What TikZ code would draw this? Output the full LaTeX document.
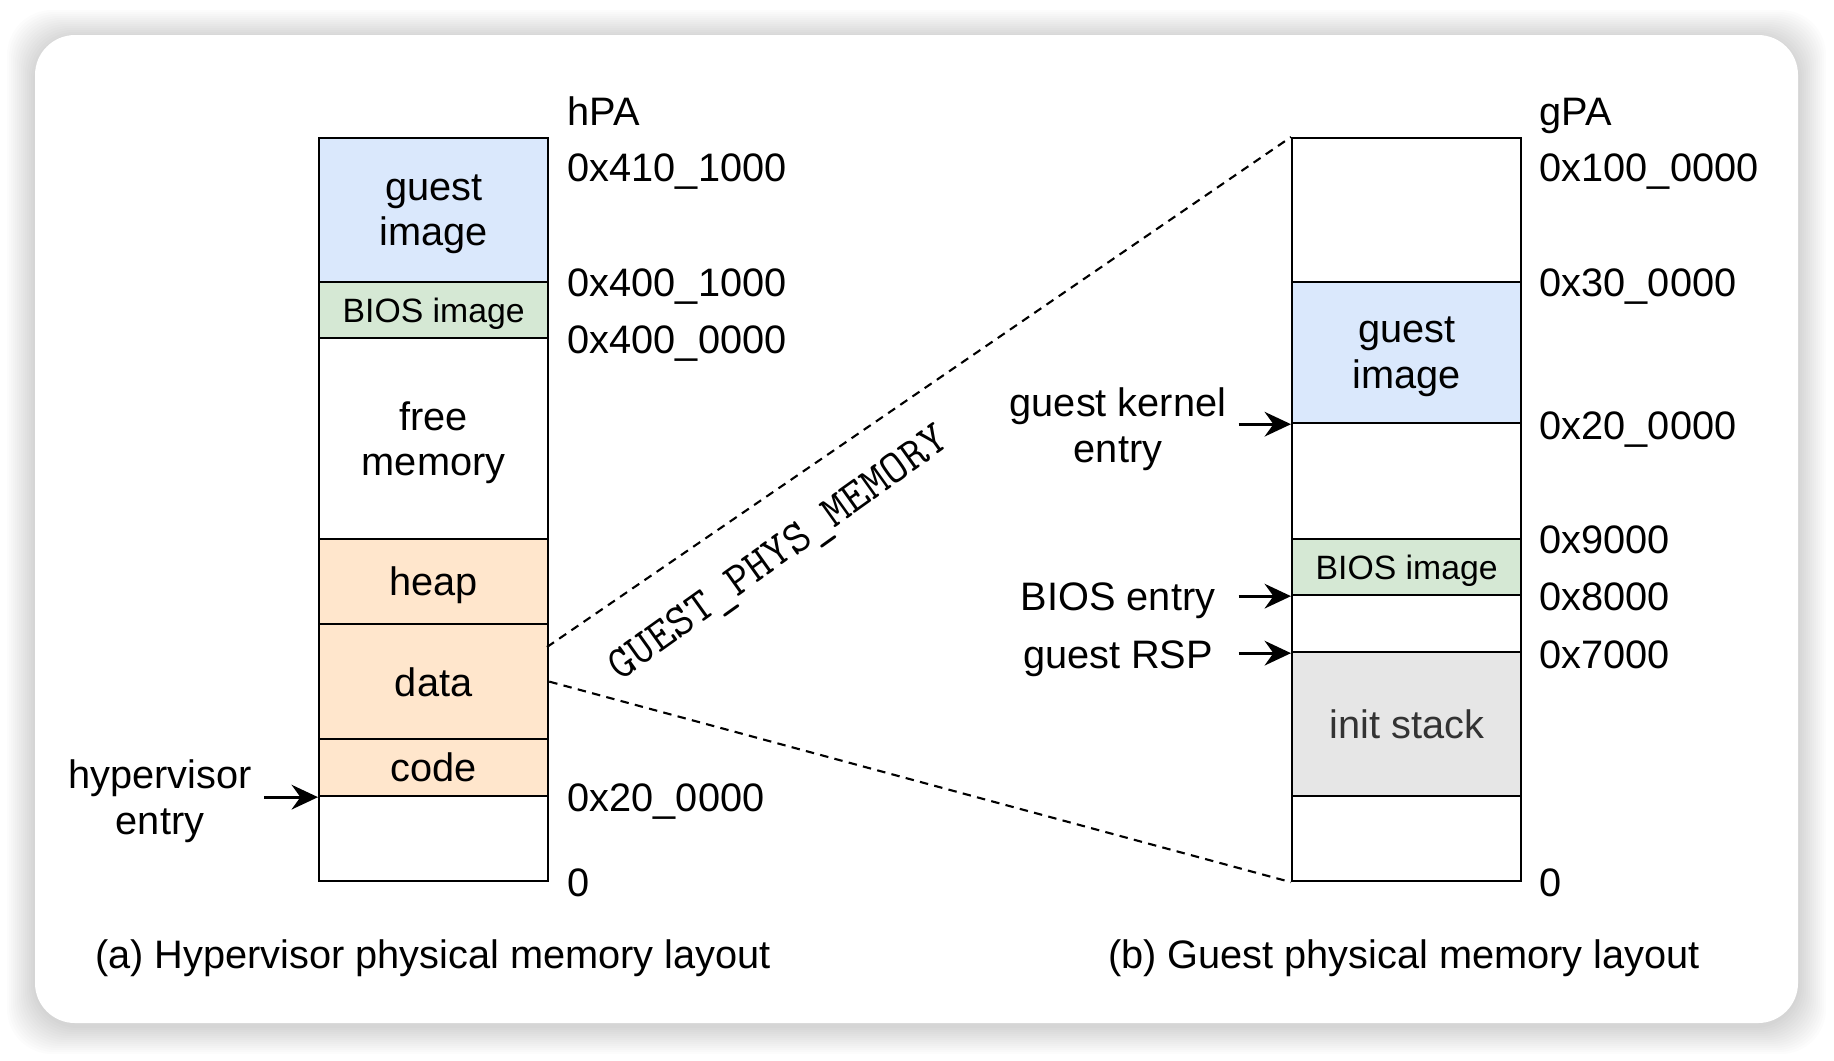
\documentclass[tikz,border=0pt]{standalone}
\usepackage{fontspec}
\setmainfont{Liberation Sans}
\usepackage{xcolor}
\usetikzlibrary{arrows.meta}

\definecolor{guestblue}{HTML}{DAE8FC}
\definecolor{biosgreen}{HTML}{D5E8D4}
\definecolor{hvorange}{HTML}{FFE6CC}
\definecolor{stackgray}{HTML}{E6E6E6}

\newcommand{\biosfont}{\fontsize{9.6}{11}\selectfont}

\tikzset{
  seg/.style={draw, line width=0.6pt, anchor=north west, minimum width=2.29cm, inner sep=0pt, align=center, text depth=0pt},
  txt/.style={inner sep=0pt, text height=8pt, text depth=0pt},
  addr/.style={txt, anchor=west},
  arr/.style={-{Stealth[length=7.5pt, width=7pt, inset=2.5pt]}, line width=0.9pt},
  gpm/.style={dash pattern=on 2.4pt off 1.8pt, line width=0.6pt}
}

\begin{document}
\begin{tikzpicture}[x=0.01cm, y=-0.01cm, font=\fontsize{11.3}{13}\selectfont]
\useasboundingbox (0,0) rectangle (1834,1060);

% Card with soft shadow
\foreach \i in {1,...,14}
  \fill[black, opacity=0.012, rounded corners=0.45cm] (35-2*\i,38-2*\i) rectangle (1798+2*\i,1026+2*\i);
\fill[white, rounded corners=0.4cm] (35,35) rectangle (1798,1023);

% Hypervisor physical memory
\foreach \n/\y/\h/\c/\t in {hguest/137/1.44/guestblue/{guest\\image}, hbios/281/0.56/biosgreen/{\biosfont BIOS image}, hfree/337/2.01/white/{free\\memory}, hheap/538/0.85/hvorange/heap, hdata/623/1.15/hvorange/data, hcode/738/0.57/hvorange/code, hlow/795/0.85/white/{}}
  \node[seg, fill=\c, minimum height=\h cm] (\n) at (318,\y) {\t};

% Guest physical memory
\foreach \n/\y/\h/\c/\t in {gtop/137/1.44/white/{}, gguest/281/1.41/guestblue/{guest\\image}, gmid/422/1.16/white/{}, gbios/538/0.56/biosgreen/{\biosfont BIOS image}, ggap/594/0.57/white/{}, gstack/651/1.44/stackgray/{\color{black!80}init stack}, glow/795/0.85/white/{}}
  \node[seg, fill=\c, minimum height=\h cm] (\n) at (1291,\y) {\t};

% Addresses
\foreach \y/\a in {111/hPA, 167/0x410\_1000, 282/0x400\_1000, 339/0x400\_0000, 797/0x20\_0000, 882/0}
  \node[addr] (ha\y) at (567,\y) {\a};
\foreach \y/\a in {111/gPA, 167/0x100\_0000, 282/0x30\_0000, 425/0x20\_0000, 539/0x9000, 596/0x8000, 654/0x7000, 882/0}
  \node[addr] (ga\y) at (1539,\y) {\a};

% Entry points
\node[align=center, text depth=0pt] (hypentry) at (160,797) {hypervisor\\entry};
\node[align=center, text depth=0pt] (kernentry) at (1118,425) {guest kernel\\entry};
\node[txt] (biosentry) at (1118,596) {BIOS entry};
\node[txt] (rspentry) at (1118,654) {guest RSP};

\draw[arr] (hypentry.east |- hcode.south west) -- (hcode.south west);
\draw[arr] (kernentry.east |- gguest.south west) -- (gguest.south west);
\draw[arr] (kernentry.east |- gbios.south west) -- (gbios.south west);
\draw[arr] (kernentry.east |- ggap.south west) -- (ggap.south west);

% Mapping of the guest memory
\coordinate (gpmstart) at (547,647);
\draw[gpm] (gpmstart) -- (gtop.north west);
\draw[gpm] (hdata.east) -- (glow.south west);
\node[rotate=35.5, font=\ttfamily\fontsize{13.2}{14}\selectfont] (gpmlabel) at (780,555) {GUEST\_PHYS\_MEMORY};

% Captions
\node[txt] (capa) at (433,954) {(a) Hypervisor physical memory layout};
\node[txt] (capb) at (1404,954) {(b) Guest physical memory layout};
\end{tikzpicture}
\end{document}
